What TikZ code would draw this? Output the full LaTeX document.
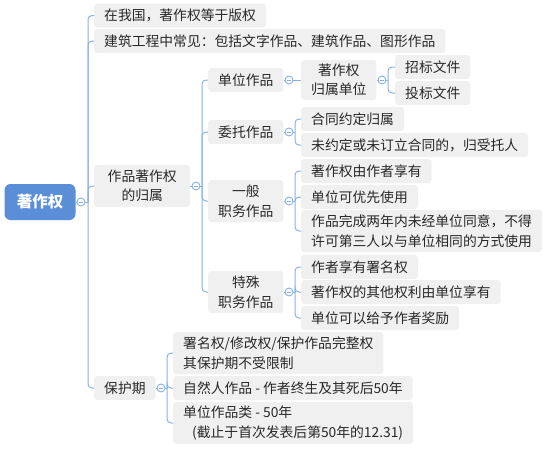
\documentclass[tikz,border=0pt]{standalone}
\usepackage{fontspec}
\setmainfont{Noto Sans CJK SC}
\definecolor{lc}{RGB}{135,176,230}
\definecolor{boxgray}{RGB}{240,240,240}
\definecolor{rootblue}{RGB}{90,143,216}
\definecolor{txt}{RGB}{40,40,40}
\tikzset{
  box/.style={fill=boxgray, rounded corners=3pt, inner xsep=10pt, inner ysep=0pt,
    minimum height=24pt, anchor=west, text=txt, font=\fontsize{13.8}{19.5}\selectfont},
  tall/.style={minimum height=42pt},
  rootbox/.style={fill=rootblue, rounded corners=6pt, minimum width=71pt, minimum height=36pt,
    text=white, font=\fontsize{15.5}{18}\selectfont\bfseries},
  circ/.style={circle, draw=lc, line width=0.9pt, fill=white, minimum size=8pt, inner sep=0pt,
    path picture={\draw[lc, line width=0.9pt] ([xshift=-2.2pt]path picture bounding box.center) -- ([xshift=2.2pt]path picture bounding box.center);}},
  conn/.style={draw=lc, line width=1pt, rounded corners=4pt},
}
\begin{document}
\begin{tikzpicture}[x=1pt, y=-1pt]
\useasboundingbox (0,0) rectangle (554,451);
% root
\node[rootbox] (root) at (40,202) {著作权};
\node[circ] (k0) at (81,202) {};
\coordinate (j0) at (88,202);
% level 1
\node[box] (a1) at (94,15.5) {在我国，著作权等于版权};
\node[box] (a2) at (94,41) {建筑工程中常见：包括文字作品、建筑作品、图形作品};
\node[box, tall, minimum width=96pt, align=center] (a3) at (94,186) {作品著作权\\的归属};
\node[box] (a4) at (94,388) {保护期};
% a3 children
\node[circ] (k3) at (196,186) {};
\coordinate (j3) at (202,186);
\node[box, minimum width=74pt] (b1) at (208,80) {单位作品};
\node[box, minimum width=74pt] (b2) at (208,132) {委托作品};
\node[box, tall, minimum width=74pt, align=center] (b3) at (208,201) {一般\\职务作品};
\node[box, tall, minimum width=74pt, align=center] (b4) at (208,292) {特殊\\职务作品};
% b1 children
\node[circ] (k31) at (289,80) {};
\node[box, minimum height=40pt, minimum width=75pt, align=center] (c11) at (301,80) {著作权\\归属单位};
\node[circ] (k311) at (382,80) {};
\coordinate (j311) at (388,80);
\node[box, minimum width=74pt] (d1) at (395,67) {招标文件};
\node[box, minimum width=74pt] (d2) at (395,93) {投标文件};
% b2 children
\node[circ] (k32) at (289,132) {};
\coordinate (j32) at (295,132);
\node[box] (c21) at (301,119) {合同约定归属};
\node[box] (c22) at (301,145) {未约定或未订立合同的，归受托人};
% b3 children
\node[circ] (k33) at (289,201) {};
\coordinate (j33) at (295,201);
\node[box] (c31) at (301,171) {著作权由作者享有};
\node[box] (c32) at (301,197) {单位可优先使用};
\node[box, tall, align=left, inner xsep=10pt] (c33) at (301,231) {作品完成两年内未经单位同意，不得\\许可第三人以与单位相同的方式使用};
% b4 children
\node[circ] (k34) at (289,292) {};
\coordinate (j34) at (295,292);
\node[box] (c41) at (301,267) {作者享有署名权};
\node[box] (c42) at (301,292) {著作权的其他权利由单位享有};
\node[box] (c43) at (301,318) {单位可以给予作者奖励};
% a4 children
\node[circ] (k4) at (161,388) {};
\coordinate (j4) at (167,388);
\node[box, tall, align=left] (e1) at (173,353) {署名权/修改权/保护作品完整权\\其保护期不受限制};
\node[box] (e2) at (173,388) {自然人作品 - 作者终生及其死后50年};
\node[box, tall, align=left] (e3) at (173,423) {单位作品类 - 50年\\\hspace*{9pt}(截止于首次发表后第50年的12.31)};
% connectors
\draw[conn] (root.east) -- (k0.west);
\draw[conn] (k0.east) -- (j0);
\foreach \c in {a1,a2,a3,a4} \draw[conn] (j0) |- (\c.west);
\draw[conn] (a3.east) -- (k3.west);
\draw[conn] (k3.east) -- (j3);
\foreach \c in {b1,b2,b3,b4} \draw[conn] (j3) |- (\c.west);
\draw[conn] (b1.east) -- (k31.west);
\draw[conn] (k31.east) -- (c11.west);
\draw[conn] (c11.east) -- (k311.west);
\draw[conn] (k311.east) -- (j311);
\foreach \c in {d1,d2} \draw[conn] (j311) |- (\c.west);
\draw[conn] (b2.east) -- (k32.west);
\draw[conn] (k32.east) -- (j32);
\foreach \c in {c21,c22} \draw[conn] (j32) |- (\c.west);
\draw[conn] (b3.east) -- (k33.west);
\draw[conn] (k33.east) -- (j33);
\foreach \c in {c31,c32,c33} \draw[conn] (j33) |- (\c.west);
\draw[conn] (b4.east) -- (k34.west);
\draw[conn] (k34.east) -- (j34);
\foreach \c in {c41,c42,c43} \draw[conn] (j34) |- (\c.west);
\draw[conn] (a4.east) -- (k4.west);
\draw[conn] (k4.east) -- (j4);
\foreach \c in {e1,e2,e3} \draw[conn] (j4) |- (\c.west);
\end{tikzpicture}
\end{document}
